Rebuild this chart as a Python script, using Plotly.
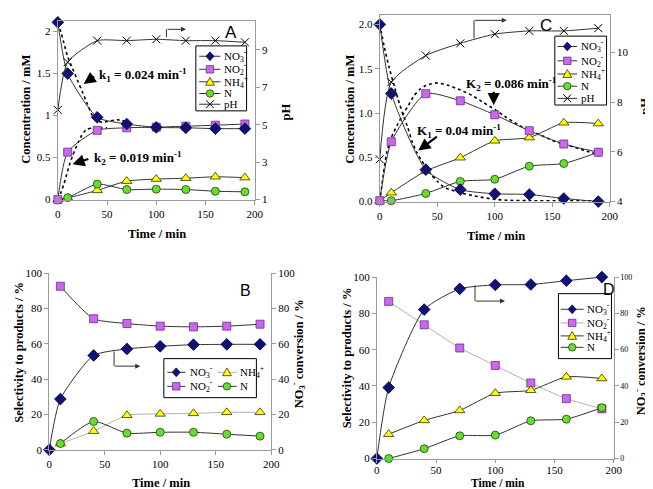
import plotly.graph_objects as go

W, H = 653, 489
def X(px): return px / W
def Y(py): return 1 - py / H

# ---------------- data ----------------
t_all = [0, 10, 40, 70, 100, 130, 160, 190]
t_sel = [10, 40, 70, 100, 130, 160, 190]

# Panel A (concentration mM, pH)
A_no3 = [2.11, 1.50, 0.98, 0.90, 0.86, 0.855, 0.845, 0.845]
A_no2 = [0.0, 0.565, 0.825, 0.855, 0.862, 0.874, 0.886, 0.90]
A_nh4 = [0.0, 0.02, 0.11, 0.22, 0.245, 0.255, 0.272, 0.262]
A_n = [0.0, 0.023, 0.185, 0.12, 0.125, 0.12, 0.10, 0.093]
A_ph = [5.79, 8.34, 9.49, 9.49, 9.56, 9.49, 9.49, 9.40]
A_fit1_t = [0, 3, 6, 10, 15, 20, 25, 30, 35, 40, 45, 50, 60, 70]
A_fit1 = [2.10, 2.0, 1.87, 1.70, 1.56, 1.42, 1.28, 1.14, 1.0, 0.94, 0.92, 0.93, 0.95, 0.93]
A_fit2_t = [0, 3, 6, 9, 12, 15, 18, 21, 24, 27, 30, 35, 40, 50]
A_fit2 = [0.0, 0.08, 0.18, 0.30, 0.42, 0.52, 0.61, 0.69, 0.76, 0.81, 0.84, 0.85, 0.85, 0.855]

# Panel C (concentration mM, pH)
C_no3 = [2.0, 1.22, 0.36, 0.135, 0.088, 0.08, 0.035, 0.0]
C_no2 = [0.01, 0.675, 1.218, 1.138, 0.98, 0.80, 0.65, 0.557]
C_nh4 = [0.01, 0.10, 0.346, 0.495, 0.686, 0.722, 0.89, 0.881]
C_n = [0.01, 0.01, 0.092, 0.228, 0.252, 0.40, 0.43, 0.557]
C_ph = [5.70, 8.80, 9.87, 10.36, 10.73, 10.86, 10.86, 10.97]
C_fit1_t = [0, 4, 8, 12, 16, 20, 24, 28, 32, 36, 40, 45, 50, 55, 60, 70, 80, 90, 100, 110, 130, 160, 190]
C_fit1 = [2.0, 1.74, 1.52, 1.33, 1.15, 0.99, 0.85, 0.68, 0.56, 0.47, 0.39, 0.30, 0.23, 0.17, 0.14, 0.10, 0.07, 0.045, 0.025, 0.015, 0.01, 0.01, 0.01]
C_fit2_t = [0, 3, 6, 10, 15, 20, 25, 30, 35, 40, 45, 50, 60, 70, 80, 90, 100, 110, 120, 130, 140, 150, 160, 170, 180, 190]
C_fit2 = [0.0, 0.3, 0.55, 0.72, 0.86, 0.98, 1.09, 1.2, 1.27, 1.31, 1.33, 1.34, 1.31, 1.26, 1.2, 1.12, 1.04, 0.95, 0.87, 0.80, 0.75, 0.69, 0.65, 0.61, 0.57, 0.53]

# Panel B (selectivity %, conversion %)
B_conv = [0, 28.7, 53.4, 57.1, 58.6, 59.5, 59.7, 59.7]
B_no2 = [92.6, 74.2, 71.5, 70.0, 69.6, 70.0, 71.1]
B_nh4 = [3.5, 10.5, 19.5, 20.3, 20.6, 21.2, 21.2]
B_n = [3.5, 16.0, 9.4, 9.9, 9.9, 8.8, 7.7]

# Panel D (selectivity %, conversion %)
D_conv = [0, 39.1, 82.1, 93.5, 95.7, 95.9, 98.0, 100.0]
D_no2 = [86.6, 73.7, 60.9, 51.3, 41.6, 33.0, 27.4]
D_nh4 = [13.4, 21.0, 26.5, 36.0, 37.6, 45.0, 44.1]
D_n = [0.0, 5.4, 12.5, 12.9, 20.8, 21.7, 28.0]

x_ticks = [0, 50, 100, 150, 200]
A_yticks = [0, 0.5, 1, 1.5, 2]
A_yticktext = ["0", "0.5", "1", "1.5", "2"]
A_phticks = [1, 3, 5, 7, 9]
C_yticks = [0, 0.5, 1.0, 1.5, 2.0]
C_yticktext = ["0.0", "0.5", "1.0", "1.5", "2.0"]
C_phticks = [4, 6, 8, 10]
pct_ticks = [0, 20, 40, 60, 80, 100]

LBL_NO3 = "NO<sub>3</sub><sup>-</sup>"
LBL_NO2 = "NO<sub>2</sub><sup>-</sup>"
LBL_NH4 = "NH<sub>4</sub><sup>+</sup>"
LBL_N = "N"
LBL_PH = "pH"

# ---------------- styles ----------------
SERIF = "Liberation Serif"
SANS = "Liberation Sans"
NAVY = "#10107a"
PURPLE = "#cc66ee"
PURPLE_E = "#6a2e8a"
YELLOW = "#ffff00"
GREEN = "#66dd33"
DARK = "#333333"
LIGHT = "#b0b0b0"
AXC = "#9a9a9a"

MK = {
    "no3": dict(symbol="diamond", size=9, color=NAVY, line=dict(color="#000040", width=0.8)),
    "no2": dict(symbol="square", size=8, color=PURPLE, line=dict(color=PURPLE_E, width=0.8)),
    "nh4": dict(symbol="triangle-up", size=9, color=YELLOW, line=dict(color="#333300", width=0.8)),
    "n": dict(symbol="circle", size=8, color=GREEN, line=dict(color="#224400", width=0.8)),
    "ph": dict(symbol="x-thin", size=8, color="black", line=dict(color="black", width=1)),
}

fig = go.Figure()

def add(x, y, key, xa, ya, lc=DARK, name=""):
    fig.add_trace(go.Scatter(x=x, y=y, mode="lines+markers", name=name, xaxis=xa, yaxis=ya,
                             line=dict(color=lc, width=1, shape="spline", smoothing=0.6),
                             marker=MK[key], cliponaxis=False, showlegend=False))

def add_fit(x, y, xa, ya):
    fig.add_trace(go.Scatter(x=x, y=y, mode="lines", xaxis=xa, yaxis=ya,
                             line=dict(color="black", width=1.6, dash="dot", shape="spline", smoothing=0.6),
                             showlegend=False, hoverinfo="skip"))

# Panel A
add_fit(A_fit1_t, A_fit1, "x", "y")
add_fit(A_fit2_t, A_fit2, "x", "y")
add(t_all, A_ph, "ph", "x", "y2", name="pH")
add(t_all, A_nh4, "nh4", "x", "y", name="NH4+")
add(t_all, A_n, "n", "x", "y", name="N")
add(t_all, A_no2, "no2", "x", "y", name="NO2-")
add(t_all, A_no3, "no3", "x", "y", name="NO3-")

# Panel C
add_fit(C_fit1_t, C_fit1, "x2", "y3")
add_fit(C_fit2_t, C_fit2, "x2", "y3")
add(t_all, C_ph, "ph", "x2", "y4", name="pH")
add(t_all, C_nh4, "nh4", "x2", "y3", name="NH4+")
add(t_all, C_n, "n", "x2", "y3", name="N")
add(t_all, C_no2, "no2", "x2", "y3", name="NO2-")
add(t_all, C_no3, "no3", "x2", "y3", name="NO3-")

# Panel B
add(t_sel, B_nh4, "nh4", "x3", "y5", lc=LIGHT, name="NH4+")
add(t_sel, B_n, "n", "x3", "y5", name="N")
add(t_sel, B_no2, "no2", "x3", "y5", name="NO2-")
add(t_all, B_conv, "no3", "x3", "y6", name="NO3-")

# Panel D
add(t_sel, D_no2, "no2", "x4", "y7", lc=LIGHT, name="NO2-")
add(t_sel, D_nh4, "nh4", "x4", "y7", name="NH4+")
add(t_sel, D_n, "n", "x4", "y7", name="N")
add(t_all, D_conv, "no3", "x4", "y8", name="NO3-")

tickfont = dict(family=SERIF, size=11, color="black")
def axstyle(**kw):
    d = dict(showline=True, linecolor=AXC, linewidth=1, ticks="outside", ticklen=4,
             tickcolor=AXC, showgrid=False, zeroline=False, tickfont=tickfont, fixedrange=True)
    d.update(kw)
    return d

fig.update_layout(
    width=W, height=H, margin=dict(l=0, r=0, t=0, b=0),
    paper_bgcolor="white", plot_bgcolor="white", showlegend=False,
    font=dict(family=SERIF, size=11, color="black"),
    # A
    xaxis=axstyle(domain=[X(47.7), X(248.3)], range=[0, 200], tickvals=x_ticks, anchor="y", mirror=True),
    yaxis=axstyle(domain=[Y(190.3), Y(7)], range=[0, 2.128], tickvals=A_yticks, ticktext=A_yticktext, anchor="x"),
    yaxis2=axstyle(overlaying="y", side="right", anchor="x", range=[1, 10.547], tickvals=A_phticks),
    # C
    xaxis2=axstyle(domain=[X(375.7), X(610)], range=[0, 200], tickvals=x_ticks, anchor="y3", mirror=True),
    yaxis3=axstyle(domain=[Y(192.3), Y(1)], range=[0, 2.107], tickvals=C_yticks, ticktext=C_yticktext, anchor="x2"),
    yaxis4=axstyle(overlaying="y3", side="right", anchor="x2", range=[4, 11.5], tickvals=C_phticks),
    # B
    xaxis3=axstyle(domain=[X(39), X(265)], range=[0, 200], tickvals=x_ticks, anchor="y5"),
    yaxis5=axstyle(domain=[Y(446.7), Y(265.7)], range=[0, 100], tickvals=pct_ticks, anchor="x3"),
    yaxis6=axstyle(overlaying="y5", side="right", anchor="x3", range=[0, 100], tickvals=pct_ticks),
    # D
    xaxis4=axstyle(domain=[X(372.7), X(614)], range=[0, 200], tickvals=x_ticks, anchor="y7",
                   ticklen=3, ticklabelstandoff=-2),
    yaxis7=axstyle(domain=[Y(455.7), Y(269.7)], range=[0, 100], tickvals=pct_ticks, anchor="x4"),
    yaxis8=axstyle(overlaying="y7", side="right", anchor="x4", range=[0, 100], tickvals=pct_ticks,
                   tickfont=dict(family=SERIF, size=8, color="black")),
)

shapes = []
annots = []

def text(px, py, s, size=11, bold=False, angle=0, xanchor="center", family=SERIF, yanchor="middle"):
    annots.append(dict(x=X(px), y=Y(py), xref="paper", yref="paper", text=("<b>%s</b>" % s) if bold else s,
                       showarrow=False, textangle=angle, xanchor=xanchor, yanchor=yanchor,
                       font=dict(family=family, size=size, color="black")))

def arrow(hx, hy, tx, ty, width=2, size=1.1, color="black", head=2):
    annots.append(dict(x=X(hx), y=Y(hy), xref="paper", yref="paper", text="", showarrow=True,
                       ax=tx - hx, ay=ty - hy, arrowhead=head, arrowwidth=width, arrowsize=size,
                       arrowcolor=color, standoff=0, startstandoff=0))

def line(x0, y0, x1, y1, color=DARK, width=1):
    shapes.append(dict(type="line", xref="paper", yref="paper", x0=X(x0), y0=Y(y0), x1=X(x1), y1=Y(y1),
                       line=dict(color=color, width=width)))

def elbow(x0, y0, ym, x1):
    line(x0, y0, x0, ym)
    arrow(x1, ym, x0, ym, width=1, size=1.0, color=DARK, head=2)

def swatch(key, cx, cy, lx0, lx1, lc=DARK):
    line(lx0, cy, lx1, cy, color=lc, width=1)
    r = 4
    m = MK[key]
    if key == "no3":
        p = "M %f %f L %f %f L %f %f L %f %f Z" % (X(cx), Y(cy - r - 0.5), X(cx + r), Y(cy), X(cx), Y(cy + r + 0.5), X(cx - r), Y(cy))
        shapes.append(dict(type="path", xref="paper", yref="paper", path=p, fillcolor=m["color"], line=dict(color="#000040", width=0.8)))
    elif key == "no2":
        shapes.append(dict(type="rect", xref="paper", yref="paper", x0=X(cx - 3.8), x1=X(cx + 3.8), y0=Y(cy + 3.8), y1=Y(cy - 3.8),
                           fillcolor=m["color"], line=dict(color=PURPLE_E, width=0.8)))
    elif key == "nh4":
        p = "M %f %f L %f %f L %f %f Z" % (X(cx), Y(cy - 4.5), X(cx + 4.5), Y(cy + 3.5), X(cx - 4.5), Y(cy + 3.5))
        shapes.append(dict(type="path", xref="paper", yref="paper", path=p, fillcolor=m["color"], line=dict(color="#333300", width=0.8)))
    elif key == "n":
        shapes.append(dict(type="circle", xref="paper", yref="paper", x0=X(cx - 3.8), x1=X(cx + 3.8), y0=Y(cy + 3.8), y1=Y(cy - 3.8),
                           fillcolor=m["color"], line=dict(color="#224400", width=0.8)))
    elif key == "ph":
        line(cx - 4, cy - 4, cx + 4, cy + 4, color="black")
        line(cx - 4, cy + 4, cx + 4, cy - 4, color="black")

def box(x0, y0, x1, y1):
    shapes.append(dict(type="rect", xref="paper", yref="paper", x0=X(x0), x1=X(x1), y0=Y(y1), y1=Y(y0),
                       fillcolor="white", line=dict(color="black", width=1)))

LEG = 11
# Legend A
box(188.3, 32.7, 240, 99.3)
for key, lab, cy in [("no3", LBL_NO3, 43.3), ("no2", LBL_NO2, 56.7), ("nh4", LBL_NH4, 69.5), ("n", LBL_N, 81.5), ("ph", LBL_PH, 92.5)]:
    swatch(key, 202.7, cy, 191.7, 213.3)
    text(215, cy, lab, size=LEG, xanchor="left")
# Legend C
box(554, 22.7, 606.7, 93.3)
for key, lab, cy in [("no3", LBL_NO3, 33.3), ("no2", LBL_NO2, 48.0), ("nh4", LBL_NH4, 61.5), ("n", LBL_N, 74), ("ph", LBL_PH, 86.5)]:
    swatch(key, 566.7, cy, 556.7, 576.7)
    text(578.3, cy, lab, size=LEG, xanchor="left")
# Legend B (two columns)
box(155.7, 353.3, 250, 393.3)
for key, lab, cx, cy, lx0, lx1, tx, lc in [
        ("no3", LBL_NO3, 168.3, 367.3, 159.3, 177.7, 180, DARK),
        ("no2", LBL_NO2, 168.3, 381.7, 159.3, 177.7, 180, DARK),
        ("nh4", LBL_NH4, 220, 367.3, 210.7, 230, 231.7, LIGHT),
        ("n", LBL_N, 220, 381.7, 210.7, 230, 231.7, DARK)]:
    swatch(key, cx, cy, lx0, lx1, lc=lc)
    text(tx, cy, lab, size=LEG, xanchor="left")
# Legend D
box(557.7, 286.7, 611.7, 353.3)
for key, lab, cy, lc in [("no3", LBL_NO3, 302.7, DARK), ("no2", LBL_NO2, 316.7, LIGHT), ("nh4", LBL_NH4, 330, DARK), ("n", LBL_N, 341.7, DARK)]:
    swatch(key, 571.7, cy, 560, 583.3, lc=lc)
    text(585, cy, lab, size=LEG, xanchor="left")

# panel letters
text(224, 19, "A", size=17, family=SANS)
text(545, 12, "C", size=17, family=SANS)
text(239, 283, "B", size=16, family=SANS)
text(608.7, 282.3, "D", size=16, family=SANS)

# elbow arrows
elbow(158.3, 24, 15.7, 178.3)
elbow(471.7, 25, 6.5, 505)
elbow(105, 346, 361, 131.7)
elbow(472.7, 278.3, 294.3, 503.3)

# rate constants
text(87.5, 62.7, "k<sub>1</sub> = 0.024 min<sup>-1</sup>", size=13, bold=True, xanchor="left")
arrow(74, 71.7, 86, 63.3, width=2.2)
text(82.7, 147.7, "k<sub>2</sub> = 0.019 min<sup>-1</sup>", size=13, bold=True, xanchor="left")
arrow(62.7, 154, 80, 148.3, width=2.2)
text(461.7, 71.7, "K<sub>2</sub> = 0.086 min<sup>-1</sup>", size=13, bold=True, xanchor="left")
arrow(491.7, 93.5, 491.7, 78.5, width=2.2)
text(411.7, 120, "K<sub>1</sub> = 0.04 min<sup>-1</sup>", size=13, bold=True, xanchor="left")
arrow(415, 140, 435, 125, width=2.2)

# axis titles
TS = 12.5
text(15, 97.5, "Concentration / mM", size=TS, bold=True, angle=-90)
text(280, 100, "pH", size=TS, bold=True, angle=-90)
text(149, 226, "Time / min", size=TS, bold=True)
text(345, 97.5, "Concentration / mM", size=TS, bold=True, angle=-90)
text(646, 95, "pH", size=TS, bold=True, angle=-90)
text(494, 227.7, "Time / min", size=TS, bold=True)
text(8.3, 347, "Selectivity to products / %", size=TS, bold=True, angle=-90)
text(293.3, 348, "NO<sub>3</sub><sup>-</sup> conversion / %", size=TS, bold=True, angle=-90)
text(152.3, 480.7, "Time / min", size=TS, bold=True)
text(342.3, 353, "Selectivity to products / %", size=TS, bold=True, angle=-90)
text(641.7, 355, "NO<sub>3</sub><sup>-</sup> conversion / %", size=TS, bold=True, angle=-90)
text(495.7, 489, "Time / min", size=11.5, bold=True, yanchor="bottom")

fig.update_layout(shapes=shapes, annotations=annots)
fig.write_html("out.html")
